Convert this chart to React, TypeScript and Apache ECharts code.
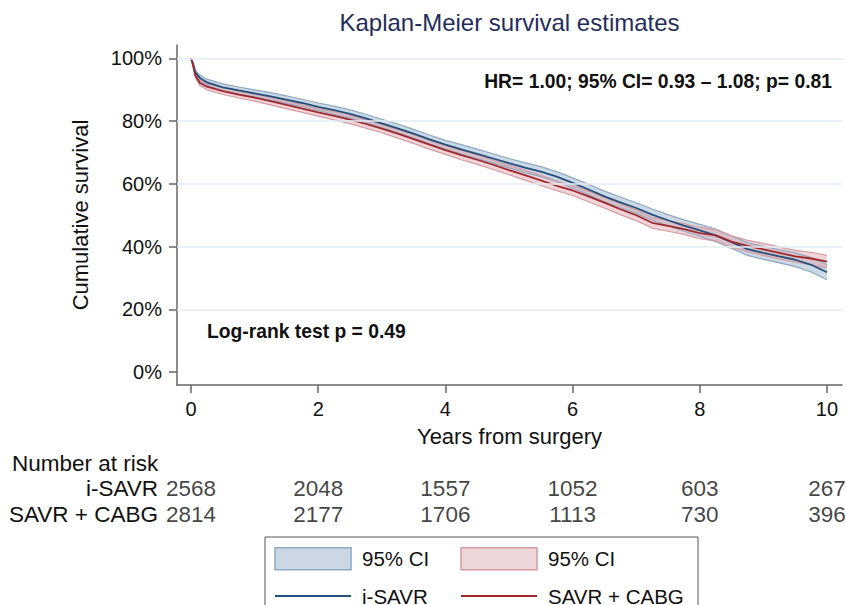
import React, { useEffect, useRef } from 'react';
import * as echarts from 'echarts';

// ---- data ----
const years = [0, 0.03, 0.07, 0.14, 0.25, 0.5, 0.75, 1, 1.25, 1.5, 1.75, 2, 2.25, 2.5, 2.75, 3, 3.25, 3.5, 3.75, 4, 4.25, 4.5, 4.75, 5, 5.25, 5.5, 5.75, 6, 6.25, 6.5, 6.75, 7, 7.25, 7.5, 7.75, 8, 8.25, 8.5, 8.75, 9, 9.25, 9.5, 9.75, 10];
const survISAVR = [100, 98.5, 95.5, 93.8, 92.4, 90.8, 89.8, 88.9, 87.9, 86.9, 85.8, 84.6, 83.5, 82.3, 80.9, 79.3, 77.7, 76.0, 74.2, 72.5, 71.0, 69.6, 68.1, 66.6, 65.2, 63.9, 62.3, 60.3, 58.2, 56.0, 54.1, 52.3, 50.2, 48.4, 46.7, 45.2, 43.6, 41.4, 39.2, 38.0, 36.9, 35.8, 34.2, 31.8];
const survCABG = [100, 98.0, 94.5, 92.2, 91.0, 89.6, 88.5, 87.5, 86.4, 85.2, 84.0, 82.8, 81.7, 80.5, 79.1, 77.6, 76.0, 74.3, 72.5, 70.8, 69.2, 67.7, 66.1, 64.4, 62.8, 61.1, 59.4, 57.9, 56.0, 54.0, 51.9, 50.0, 47.6, 46.6, 45.6, 44.3, 43.6, 41.6, 40.2, 39.1, 38.0, 36.9, 36.2, 35.2];
const ciHalfISAVR = [0, 0.3, 0.6, 0.9, 1.0, 1.1, 1.1, 1.1, 1.2, 1.2, 1.2, 1.2, 1.3, 1.3, 1.3, 1.3, 1.4, 1.4, 1.4, 1.4, 1.5, 1.5, 1.5, 1.5, 1.6, 1.6, 1.6, 1.6, 1.7, 1.7, 1.7, 1.7, 1.8, 1.8, 1.8, 1.9, 2.0, 2.0, 2.0, 2.1, 2.1, 2.2, 2.3, 2.4];
const ciHalfCABG = [0, 0.3, 0.6, 0.9, 1.0, 1.1, 1.1, 1.1, 1.2, 1.2, 1.2, 1.2, 1.3, 1.3, 1.3, 1.3, 1.4, 1.4, 1.4, 1.4, 1.5, 1.5, 1.5, 1.5, 1.6, 1.6, 1.6, 1.6, 1.7, 1.7, 1.7, 1.7, 1.7, 1.7, 1.7, 1.8, 1.8, 1.8, 1.8, 1.9, 1.9, 1.9, 2.0, 2.0];

const yTicks = [0, 20, 40, 60, 80, 100];
const gridLevels = [20, 40, 60, 80, 100];
const xTicks = [0, 2, 4, 6, 8, 10];

const riskGroups = ['SAVR + CABG', 'i-SAVR'];
const riskYears = [0, 2, 4, 6, 8, 10];
const riskISAVR = [2568, 2048, 1557, 1052, 603, 267];
const riskCABG = [2814, 2177, 1706, 1113, 730, 396];

const FONT = '"Liberation Sans", Arial, Helvetica, sans-serif';
const TXT = '#111111';
const AXIS = '#666666';
const RISK_FS = 22.5;

const BLUE = '#24507e';
const RED = '#a3282e';
const BLUE_FILL = 'rgba(160,186,208,0.55)';
const BLUE_EDGE = '#8ea9c1';
const RED_FILL = 'rgba(226,170,175,0.5)';
const RED_EDGE = '#d49ca1';

function bandFill(name: string, est: number[], half: number[], fill: string, legendColor: string) {
  const data = years.map((t, i) => [t, est[i] - half[i], est[i] + half[i]]);
  return {
    type: 'custom',
    name,
    xAxisIndex: 0,
    yAxisIndex: 0,
    z: 1,
    silent: true,
    itemStyle: { color: legendColor },
    encode: { x: 0, y: [1, 2] },
    data,
    renderItem: (params: any, api: any) => {
      if (params.dataIndex !== 0) return null;
      const upper = data.map((d) => api.coord([d[0], d[2]]));
      const lower = data.map((d) => api.coord([d[0], d[1]])).reverse();
      return {
        type: 'polygon',
        shape: { points: upper.concat(lower) },
        style: { fill, stroke: 'none' },
      };
    },
  };
}

function edgeLine(name: string, est: number[], half: number[], sign: number, color: string) {
  return {
    type: 'line',
    name,
    xAxisIndex: 0,
    yAxisIndex: 0,
    z: 2,
    silent: true,
    symbol: 'none',
    lineStyle: { color, width: 1.2 },
    data: years.map((t, i) => [t, est[i] + sign * half[i]]),
  };
}

export default function App() {
  const ref = useRef<HTMLDivElement>(null);

  useEffect(() => {
    if (!ref.current) return;
    const chart = echarts.init(ref.current, undefined, { renderer: 'svg' });

    const legendCommon = {
      orient: 'vertical',
      top: 547,
      height: 80,
      padding: 0,
      itemWidth: 76,
      itemHeight: 22,
      itemGap: 15,
      selectedMode: false,
      formatter: (name: string) => (name.startsWith('CI ') ? '95% CI' : name),
      textStyle: { fontSize: 20.5, fontFamily: FONT, color: TXT, padding: [0, 0, 0, 6] },
    };
    const hiddenSymbol = { color: 'rgba(0,0,0,0)', borderWidth: 0 };

    const option: any = {
      animation: false,
      backgroundColor: '#ffffff',
      textStyle: { fontFamily: FONT },
      grid: [
        { left: 177, right: 4, top: 45, bottom: 220 },
        { left: 177, right: 4, top: 475, height: 52 },
      ],
      xAxis: [
        {
          gridIndex: 0,
          type: 'value',
          min: -0.22,
          max: 10.236,
          name: 'Years from surgery',
          nameLocation: 'middle',
          nameGap: 40,
          nameTextStyle: { fontSize: 22, color: TXT, fontFamily: FONT },
          axisLine: { show: true, onZero: false, lineStyle: { color: AXIS, width: 1.5 } },
          axisTick: { show: true, customValues: xTicks, length: 8, lineStyle: { color: AXIS, width: 1.5 } },
          axisLabel: { customValues: xTicks, fontSize: 20, color: TXT, margin: 14, fontFamily: FONT },
          splitLine: { show: false },
        },
        {
          gridIndex: 1,
          type: 'value',
          min: -0.22,
          max: 10.236,
          show: false,
        },
      ],
      yAxis: [
        {
          gridIndex: 0,
          type: 'value',
          min: -4.15,
          max: 104.3,
          name: 'Cumulative survival',
          nameLocation: 'middle',
          nameGap: 86,
          nameTextStyle: { fontSize: 22, color: TXT, fontFamily: FONT },
          axisLine: { show: true, onZero: false, lineStyle: { color: AXIS, width: 1.5 } },
          axisTick: { show: true, customValues: yTicks, length: 8, lineStyle: { color: AXIS, width: 1.5 } },
          axisLabel: { customValues: yTicks, formatter: '{value}%', fontSize: 20, color: TXT, margin: 15, fontFamily: FONT },
          splitLine: { show: false },
        },
        {
          gridIndex: 1,
          type: 'category',
          data: riskGroups,
          axisLine: { show: false },
          axisTick: { show: false },
          splitLine: { show: false },
          axisLabel: { interval: 0, fontSize: RISK_FS, color: TXT, margin: 19, fontFamily: FONT },
        },
      ],
      legend: [
        {
          ...legendCommon,
          left: 274,
          data: [
            { name: 'CI i-SAVR', icon: 'rect', itemStyle: { color: '#cbd8e3', borderColor: BLUE_EDGE, borderWidth: 1.5 } },
            { name: 'i-SAVR', itemStyle: hiddenSymbol, lineStyle: { width: 2 } },
          ],
        },
        {
          ...legendCommon,
          left: 460,
          data: [
            { name: 'CI SAVR + CABG', icon: 'rect', itemStyle: { color: '#ecd6d8', borderColor: RED_EDGE, borderWidth: 1.5 } },
            { name: 'SAVR + CABG', itemStyle: hiddenSymbol, lineStyle: { width: 2 } },
          ],
        },
      ],
      series: [
        {
          type: 'line',
          name: 'grid',
          xAxisIndex: 0,
          yAxisIndex: 0,
          data: [],
          silent: true,
          markLine: {
            silent: true,
            symbol: ['none', 'none'],
            label: { show: false },
            lineStyle: { color: '#e2edf3', width: 1.5, type: 'solid' },
            data: gridLevels.map((v) => ({ yAxis: v })),
          },
        },
        bandFill('CI i-SAVR', survISAVR, ciHalfISAVR, BLUE_FILL, '#cbd8e3'),
        bandFill('CI SAVR + CABG', survCABG, ciHalfCABG, RED_FILL, '#ecd6d8'),
        edgeLine('i-SAVR lower', survISAVR, ciHalfISAVR, -1, BLUE_EDGE),
        edgeLine('i-SAVR upper', survISAVR, ciHalfISAVR, 1, BLUE_EDGE),
        edgeLine('CABG lower', survCABG, ciHalfCABG, -1, RED_EDGE),
        edgeLine('CABG upper', survCABG, ciHalfCABG, 1, RED_EDGE),
        {
          type: 'line',
          name: 'i-SAVR',
          xAxisIndex: 0,
          yAxisIndex: 0,
          z: 3,
          symbol: 'none',
          itemStyle: { color: BLUE },
          lineStyle: { color: BLUE, width: 1.8 },
          data: years.map((t, i) => [t, survISAVR[i]]),
        },
        {
          type: 'line',
          name: 'SAVR + CABG',
          xAxisIndex: 0,
          yAxisIndex: 0,
          z: 3,
          symbol: 'none',
          itemStyle: { color: RED },
          lineStyle: { color: RED, width: 1.8 },
          data: years.map((t, i) => [t, survCABG[i]]),
        },
        {
          type: 'scatter',
          name: 'risk',
          xAxisIndex: 1,
          yAxisIndex: 1,
          symbolSize: 1,
          silent: true,
          itemStyle: { color: 'rgba(0,0,0,0)' },
          label: {
            show: true,
            position: 'inside',
            formatter: (p: any) => String(p.value[2]),
            fontSize: RISK_FS,
            color: TXT,
            fontFamily: FONT,
          },
          data: [
            ...riskYears.map((t, i) => [t, 'i-SAVR', riskISAVR[i]]),
            ...riskYears.map((t, i) => [t, 'SAVR + CABG', riskCABG[i]]),
          ],
        },
      ],
      graphic: [
        {
          type: 'text',
          x: 509.5,
          y: 22,
          style: { text: 'Kaplan-Meier survival estimates', fontSize: 24, fontFamily: FONT, fill: '#1f2d5c', align: 'center', verticalAlign: 'middle' },
        },
        {
          type: 'text',
          x: 832,
          y: 81,
          style: { text: 'HR= 1.00; 95% CI= 0.93 \u2013 1.08; p= 0.81', fontSize: 19.3, fontWeight: 'bold', fontFamily: FONT, fill: TXT, align: 'right', verticalAlign: 'middle' },
        },
        {
          type: 'text',
          x: 207,
          y: 331,
          style: { text: 'Log-rank test p = 0.49', fontSize: 19.3, fontWeight: 'bold', fontFamily: FONT, fill: TXT, align: 'left', verticalAlign: 'middle' },
        },
        {
          type: 'text',
          x: 12,
          y: 463,
          style: { text: 'Number at risk', fontSize: RISK_FS, fontFamily: FONT, fill: TXT, align: 'left', verticalAlign: 'middle' },
        },
        {
          type: 'rect',
          shape: { x: 265, y: 537, width: 433, height: 100 },
          style: { fill: 'none', stroke: '#555555', lineWidth: 1 },
          silent: true,
        },
      ],
    };

    chart.setOption(option);
    return () => chart.dispose();
  }, []);

  return (
    <div
      ref={ref}
      style={{ position: 'fixed', left: 0, top: 0, width: 846, height: 605, background: '#fff' }}
    />
  );
}
